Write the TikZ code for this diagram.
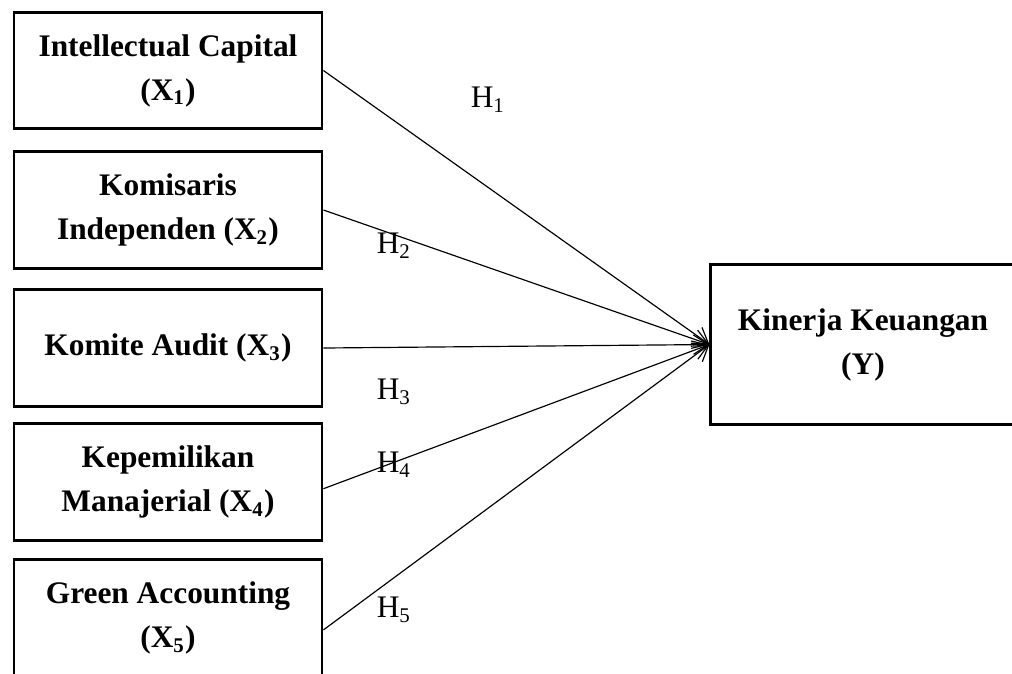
\documentclass[tikz,border=0pt]{standalone}
\usepackage{fontspec}
\setmainfont{Liberation Serif}
\usetikzlibrary{arrows.meta}

\begin{document}
\begin{tikzpicture}[x=0.01344cm,y=-0.01344cm,
    var/.style={draw,line width=1.1pt,minimum width=4.14cm,minimum height=1.57cm,
        inner sep=0pt,align=center,font=\fontsize{12}{16.8}\selectfont\bfseries},
    hyp/.style={inner sep=0pt,font=\fontsize{12}{14}\selectfont},
    path/.style={line width=0.45pt,-{Straight Barb[length=2mm,width=2.6mm]}}]
            \clip (0,0) rectangle (1012,673);

            % Independent variables
            \node[var] (x1) at (168,70.5) {Intellectual Capital\\(X\textsubscript{1})};
            \node[var] (x2) at (168,210) {Komisaris\\Independen (X\textsubscript{2})};
            \node[var] (x3) at (168,348) {Komite Audit (X\textsubscript{3})};
            \node[var] (x4) at (168,482) {Kepemilikan\\Manajerial (X\textsubscript{4})};
            \node[var] (x5) at (168,618) {Green Accounting\\(X\textsubscript{5})};

            % Dependent variable
            \node[var,minimum width=4.09cm,minimum height=2.14cm] (y) at (863,344.5) {Kinerja Keuangan\\(Y)};

            % Hypotheses
            \draw[path] (x1.east) -- (y.west);
            \draw[path] (x2.east) -- (y.west);
            \draw[path] (x3.east) -- (y.west);
            \draw[path] ([yshift=-0.09cm]x4.east) -- (y.west);
            \draw[path] ([yshift=-0.16cm]x5.east) -- (y.west);

            \node[hyp] (h1) at (488,100) {H\textsubscript{1}};
            \node[hyp] (h2) at (394,246) {H\textsubscript{2}};
            \node[hyp] (h3) at (394,392) {H\textsubscript{3}};
            \node[hyp] (h4) at (394,465) {H\textsubscript{4}};
            \node[hyp] (h5) at (394,610) {H\textsubscript{5}};

            % Caption (cut off at the bottom)
            \node[anchor=base,inner sep=0pt,font=\fontsize{12}{14}\selectfont\bfseries] (cap) at (530,697) {Gambar 3.1};
        \end{tikzpicture}
\end{document}
